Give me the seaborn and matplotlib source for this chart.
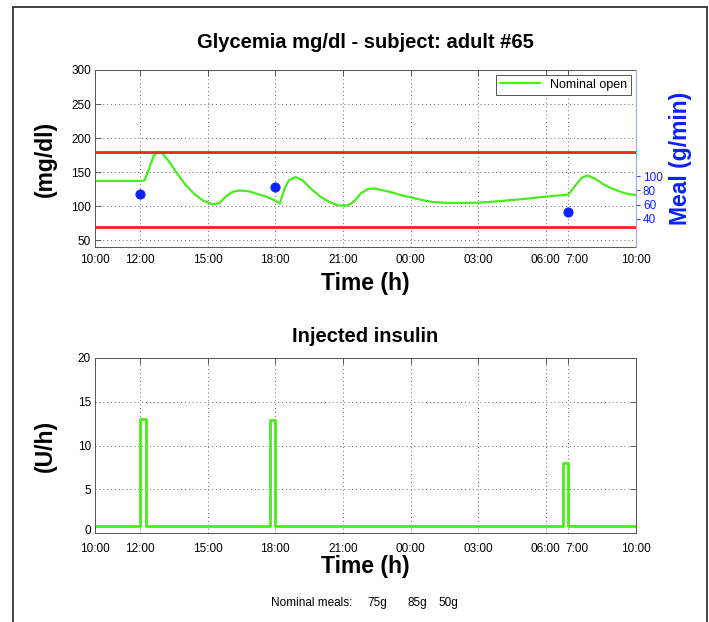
import numpy as np
import pandas as pd
import matplotlib
matplotlib.use("Agg")
import matplotlib.pyplot as plt
import seaborn as sns
from matplotlib.patches import Rectangle
from matplotlib.transforms import ScaledTranslation

# time axis in hours after 10:00
tick_hours = [0, 2, 5, 8, 11, 14, 17, 20, 21, 24]
tick_labels = ["10:00", "12:00", "15:00", "18:00", "21:00", "00:00", "03:00", "06:00", "7:00", "10:00"]

# glycemia (mg/dl)
glucose_hours = [0.0, 1.0, 2.0, 2.2, 2.4, 2.6, 2.8, 3.0, 3.3, 3.6, 4.0, 4.4, 4.8, 5.2, 5.5,
                 5.8, 6.1, 6.4, 6.8, 7.2, 7.6, 8.0, 8.2, 8.4, 8.6, 8.9, 9.2, 9.6, 10.0, 10.4,
                 10.8, 11.2, 11.5, 11.8, 12.1, 12.4, 12.8, 13.2, 13.6, 14.0, 14.5, 15.0, 15.5,
                 16.0, 17.0, 18.0, 19.0, 20.0, 21.0, 21.3, 21.6, 21.85, 22.2, 22.6, 23.0, 23.5, 24.0]
glucose_mgdl = [137, 137, 137, 138, 155, 174, 180, 177, 165, 150, 132, 118, 108, 103, 104,
                114, 121, 123, 122, 118, 114, 108, 104, 125, 138, 143, 138, 125, 114, 106,
                101, 101, 107, 119, 125, 126, 123, 120, 116, 113, 109, 106, 105,
                104.5, 105, 107.5, 110.5, 114, 117, 130, 142, 145, 140, 131, 125, 119, 116]

# meals (g/min)
meal_hours = [2, 8, 21]
meal_rate = [75, 85, 50]
meal_grams = ["75g", "85g", "50g"]

# glycemia thresholds
hypo_limit = 70
hyper_limit = 180

# injected insulin (U/h), step changes
insulin_hours = [0, 2.0, 2.25, 7.75, 8.0, 20.75, 21.0, 24]
insulin_rate = [0.85, 13, 0.85, 12.9, 0.85, 8, 0.85, 0.85]

green = "#47ee1a"
red = "#ff1f1f"
blue = "#0a22ff"

sns.set_theme(style="white")
plt.rcParams["font.family"] = ["Liberation Sans", "DejaVu Sans"]
plt.rcParams["text.color"] = "black"
plt.rcParams["axes.labelcolor"] = "black"
plt.rcParams["xtick.color"] = "black"
plt.rcParams["ytick.color"] = "black"

fig = plt.figure(figsize=(7.09, 6.22), dpi=100)
ax1 = fig.add_axes([95 / 709, 1 - 247 / 622, 541 / 709, 177 / 622])
ax2 = fig.add_axes([95 / 709, 1 - 533 / 622, 541 / 709, 175 / 622])

glu = pd.DataFrame({"hour": glucose_hours, "mgdl": glucose_mgdl})
ins = pd.DataFrame({"hour": insulin_hours, "rate": insulin_rate})
meals = pd.DataFrame({"hour": meal_hours, "rate": meal_rate})


def style_axes(ax, xpad):
    ax.set_xlim(0, 24)
    ax.set_xticks(tick_hours)
    ax.set_xticklabels(tick_labels)
    ax.grid(True, linestyle=(0, (1, 3)), color="#666666", linewidth=0.7)
    ax.tick_params(direction="in", length=4, width=0.6, labelsize=8.5, pad=3,
                   top=True, right=True, colors="#444444", labelcolor="black")
    ax.tick_params(axis="x", pad=xpad)
    for s in ax.spines.values():
        s.set_color("#555555")
        s.set_linewidth(0.7)
    # the 7:00 label sits a little right of its tick in the original
    lab = ax.get_xticklabels()[8]
    lab.set_transform(lab.get_transform() + ScaledTranslation(0.09, 0, fig.dpi_scale_trans))


# top panel: glycemia
sns.lineplot(data=glu, x="hour", y="mgdl", ax=ax1, color=green, linewidth=1.6,
             label="Nominal open")
ax1.axhline(hyper_limit, color=red, linewidth=2)
ax1.axhline(hypo_limit, color=red, linewidth=2)
style_axes(ax1, 5)
ax1.set_ylim(40, 300)
ax1.set_yticks([50, 100, 150, 200, 250, 300])
ax1.set_xlabel("Time (h)", fontsize=16.5, fontweight="bold")
ax1.set_ylabel("(mg/dl)", fontsize=16.5, fontweight="bold")
ax1.xaxis.set_label_coords(0.5, (247 - 284) / 177)
ax1.xaxis.label.set_va("center")
ax1.yaxis.set_label_coords((45 - 95) / 541, 0.5)
ax1.yaxis.label.set_va("center")
leg = ax1.legend(loc="upper right", fontsize=9, frameon=True, fancybox=False,
                 framealpha=1, edgecolor="#555555", handlelength=3.2,
                 borderpad=0.3, borderaxespad=0.4)
leg.get_frame().set_linewidth(0.7)

axm = ax1.twinx()
sns.scatterplot(data=meals, x="hour", y="rate", ax=axm, color=blue, s=45,
                edgecolor=blue, legend=False, zorder=5)
axm.set_ylim(0, 250)
axm.set_yticks([40, 60, 80, 100])
axm.tick_params(axis="y", direction="out", length=3, width=0.6, labelsize=8.5,
                colors=blue, pad=2)
for side in ["left", "top", "bottom"]:
    axm.spines[side].set_visible(False)
axm.spines["right"].set_color("#9aa0ff")
axm.spines["right"].set_linewidth(0.8)
axm.set_ylabel("Meal (g/min)", fontsize=16.5, fontweight="bold", color=blue)
axm.yaxis.set_label_coords((680 - 95) / 541, 0.5)
axm.yaxis.label.set_va("center")
axm.set_xlim(0, 24)

# bottom panel: insulin
sns.lineplot(data=ins, x="hour", y="rate", ax=ax2, color=green, linewidth=2,
             drawstyle="steps-post")
style_axes(ax2, 7)
ax2.set_ylim(0, 20)
ax2.set_yticks([0, 5, 10, 15, 20])
ax2.set_xlabel("Time (h)", fontsize=16.5, fontweight="bold")
ax2.set_ylabel("(U/h)", fontsize=16.5, fontweight="bold")
ax2.xaxis.set_label_coords(0.5, (533 - 566) / 175)
ax2.xaxis.label.set_va("center")
ax2.yaxis.set_label_coords((45 - 95) / 541, 0.5)
ax2.yaxis.label.set_va("center")
# lift the "0" a bit so it clears the time labels
zero = ax2.get_yticklabels()[0]
zero.set_transform(zero.get_transform() + ScaledTranslation(0, 0.03, fig.dpi_scale_trans))

fig.text(365 / 709, 1 - 42 / 622, "Glycemia mg/dl - subject: adult #65",
         ha="center", va="center", fontsize=14.5, fontweight="bold")
fig.text(365 / 709, 1 - 337 / 622, "Injected insulin",
         ha="center", va="center", fontsize=14.5, fontweight="bold")

fig.text(271 / 709, 1 - 603 / 622, "Nominal meals:", ha="left", va="center", fontsize=8.5)
for xpix, lab in zip([367, 408, 438], meal_grams):
    fig.text(xpix / 709, 1 - 603 / 622, lab, ha="left", va="center", fontsize=8.5)

# outer frame
fig.patches.append(Rectangle((13 / 709, -0.05), (707 - 13) / 709, 1.05 - 7 / 622,
                             transform=fig.transFigure, fill=False,
                             edgecolor="#222222", linewidth=1.2))

fig.savefig("out.png", dpi=100)
